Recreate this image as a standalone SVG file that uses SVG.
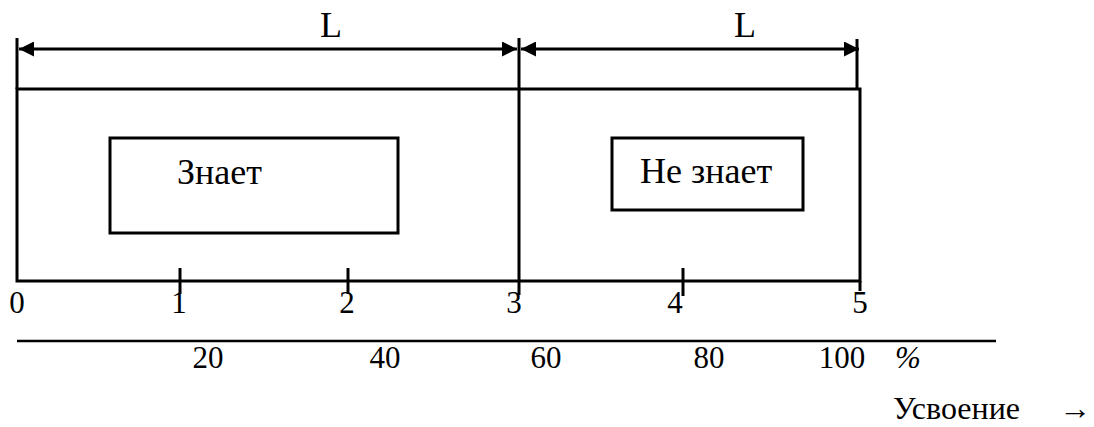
<svg xmlns="http://www.w3.org/2000/svg" width="1094" height="427" viewBox="0 0 1094 427">
<style>
.ln{stroke:#000;stroke-width:3;fill:none}
text{font-family:'Liberation Serif','DejaVu Serif','Times New Roman',serif;fill:#000}
.big{font-size:36px}
.num{font-size:31px;text-anchor:middle}
</style>
<defs>
<marker id="ah" viewBox="0 0 15 15" refX="15" refY="7.5" markerWidth="15" markerHeight="15" markerUnits="userSpaceOnUse" orient="auto-start-reverse">
<path d="M0,0 L15,7.5 L0,15 Z" fill="#000"/>
</marker>
</defs>
<rect width="1094" height="427" fill="#fff"/>
<g id="frame">
<rect class="ln" x="17" y="89" width="843" height="192"/>
<line class="ln" x1="17" y1="38" x2="17" y2="89"/>
<line class="ln" x1="519" y1="38" x2="519" y2="295"/>
<line class="ln" x1="857" y1="39" x2="857" y2="89"/>
<line class="ln" x1="860" y1="281" x2="860" y2="291"/>
<line class="ln" x1="180" y1="268" x2="180" y2="294"/>
<line class="ln" x1="348" y1="268" x2="348" y2="294"/>
<line class="ln" x1="683" y1="268" x2="683" y2="296"/>
</g>
<g id="connectors">
<line class="ln" x1="19" y1="49" x2="517" y2="49" marker-start="url(#ah)" marker-end="url(#ah)"/>
<line class="ln" x1="521" y1="49" x2="859" y2="49" marker-start="url(#ah)" marker-end="url(#ah)"/>
</g>
<g id="dim-labels">
<text class="big" x="331" y="37" text-anchor="middle">L</text>
<text class="big" x="745" y="37" text-anchor="middle">L</text>
</g>
<g id="node-znaet">
<rect class="ln" x="110" y="138" width="288" height="95"/>
<text class="big" x="177" y="184">Знает</text>
</g>
<g id="node-ne-znaet">
<rect class="ln" x="612" y="138" width="191" height="72"/>
<text class="big" x="640" y="183">Не знает</text>
</g>
<g id="scale">
<text class="num" x="17" y="313">0</text>
<text class="num" x="179" y="313">1</text>
<text class="num" x="347" y="313">2</text>
<text class="num" x="514" y="313">3</text>
<text class="num" x="675" y="313">4</text>
<text class="num" x="860" y="313">5</text>
<line class="ln" x1="17" y1="341" x2="996" y2="341" style="stroke-width:2.5"/>
<text class="num" x="208" y="368">20</text>
<text class="num" x="385" y="368">40</text>
<text class="num" x="546" y="368">60</text>
<text class="num" x="709" y="368">80</text>
<text class="num" x="842" y="368">100</text>
<text class="num" x="908" y="368" font-style="italic">%</text>
<text x="893" y="419" font-size="32">Усвоение</text>
<text x="1059" y="419" font-size="32">→</text>
</g>
</svg>
